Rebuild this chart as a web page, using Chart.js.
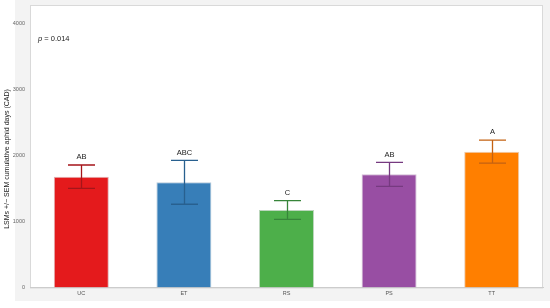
<!DOCTYPE html>
<html>
<head>
<meta charset="utf-8">
<script src="https://cdn.jsdelivr.net/npm/chart.js@4"></script>
<style>
  html, body { margin: 0; padding: 0; background: #fff; }
  canvas { display: block; }
</style>
</head>
<body>
<canvas id="chart" width="550" height="308"></canvas>
<script>
const categories = ['UC', 'ET', 'RS', 'PS', 'TT']
const means = [1679, 1594, 1174, 1715, 2058]
const sems = [177, 333, 142, 182, 174]
const letters = ['AB', 'ABC', 'C', 'AB', 'A']
const barColors = ['#e41a1c', '#377eb8', '#4daf4a', '#984ea3', '#ff7f00']
const errColors = ['#a5151a', '#28608f', '#37853a', '#763a80', '#c46212']
const yTicks = [0, 1000, 2000, 3000, 4000]
const yTitle = 'LSMs +/− SEM cumulative aphid days (CAD)'
const pText = '0.014'

const FONT = 'Arial, "Liberation Sans", sans-serif'

// Gray panel behind everything, white plot area with a thin border
const panel = {
  id: 'panel',
  beforeDraw(chart) {
    const { ctx, chartArea: a } = chart
    ctx.save()
    ctx.fillStyle = '#f3f3f3'
    ctx.fillRect(15, 0, chart.width - 15, 301)
    ctx.fillStyle = '#ffffff'
    ctx.fillRect(a.left, a.top, a.right - a.left, a.bottom - a.top)
    ctx.strokeStyle = '#d9d9d9'
    ctx.lineWidth = 1
    ctx.strokeRect(a.left + 0.5, a.top + 0.5, a.right - a.left - 1, a.bottom - a.top)
    ctx.restore()
  }
}

// SEM whiskers, letter groups, the p value and the y title
const errorBars = {
  id: 'errorBars',
  afterDatasetsDraw(chart) {
    const { ctx, scales: { x, y }, chartArea: a } = chart
    ctx.save()
    means.forEach((m, i) => {
      const cx = Math.round(x.getPixelForValue(i)) + 0.5
      const top = y.getPixelForValue(m + sems[i])
      const bot = y.getPixelForValue(m - sems[i])
      ctx.strokeStyle = errColors[i]
      ctx.lineWidth = 1.3
      ctx.beginPath()
      ctx.moveTo(cx, top); ctx.lineTo(cx, bot)
      ctx.moveTo(cx - 13.5, top); ctx.lineTo(cx + 13.5, top)
      ctx.moveTo(cx - 13.5, bot); ctx.lineTo(cx + 13.5, bot)
      ctx.stroke()
      ctx.fillStyle = '#222'
      ctx.font = '7.5px ' + FONT
      ctx.textAlign = 'center'
      ctx.textBaseline = 'bottom'
      ctx.fillText(letters[i], cx, top - 4)
    })
    ctx.fillStyle = '#222'
    ctx.textAlign = 'left'
    ctx.textBaseline = 'middle'
    ctx.font = 'italic 7.5px ' + FONT
    ctx.fillText('p', a.left + 8, 39)
    const pw = ctx.measureText('p').width
    ctx.font = '7.5px ' + FONT
    ctx.fillText(' = ' + pText, a.left + 8 + pw, 39)

    ctx.translate(7, 159)
    ctx.rotate(-Math.PI / 2)
    ctx.textAlign = 'center'
    ctx.font = '7px ' + FONT
    ctx.fillText(yTitle, 0, 0)
    ctx.restore()
  }
}

new Chart(document.getElementById('chart'), {
  type: 'bar',
  data: {
    labels: categories,
    datasets: [{
      data: means,
      backgroundColor: barColors,
      borderColor: errColors.map((c) => c + '55'),
      borderWidth: 1,
      barPercentage: 0.536,
      categoryPercentage: 1
    }]
  },
  plugins: [panel, errorBars],
  options: {
    responsive: false,
    animation: false,
    layout: { padding: { top: 5, right: 7, left: 0, bottom: 0 } },
    plugins: { legend: { display: false }, tooltip: { enabled: false } },
    scales: {
      x: {
        grid: { display: false, drawTicks: false },
        border: { color: '#cccccc' },
        ticks: { color: '#555', font: { size: 5.5, family: FONT }, padding: 3 },
        afterFit: (axis) => { axis.height = 20.5 }
      },
      y: {
        min: 0,
        max: 4280,
        // tick marks hidden; their length only keeps the labels off the plot edge
        grid: { display: false, drawTicks: true, tickLength: 5 },
        border: { display: false },
        afterBuildTicks: (axis) => { axis.ticks = yTicks.map((value) => ({ value })) },
        ticks: {
          color: '#666',
          font: { size: 5.5, family: FONT },
          padding: 0,
          callback: (value) => String(value)
        },
        afterFit: (axis) => { axis.width = 30 }
      }
    }
  }
})
</script>
</body>
</html>
